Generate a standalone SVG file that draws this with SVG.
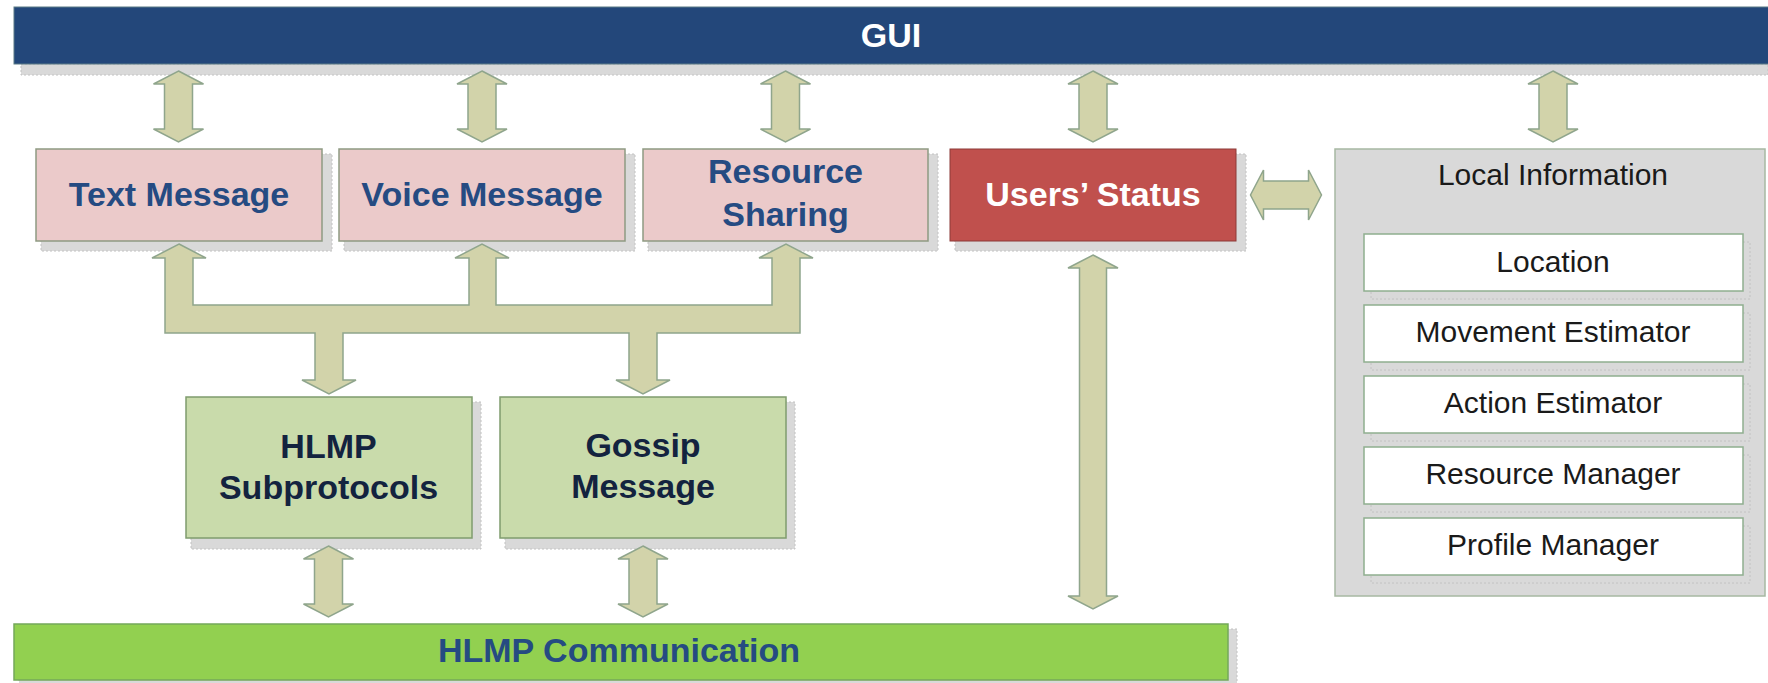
<svg xmlns="http://www.w3.org/2000/svg" xmlns:xlink="http://www.w3.org/1999/xlink" width="1768" height="683" viewBox="0 0 1768 683">
<style>
.shadow{fill:#d9d9d9;stroke:#c2c2c2;stroke-width:1;stroke-dasharray:2 2}
.pink{fill:#ebcaca;stroke:#8e9a82;stroke-width:1.5}
.green{fill:#c9dbab;stroke:#7f9c6e;stroke-width:1.5}
.arrow{fill:#d2d3aa;stroke:#8fa58c;stroke-width:1.5;stroke-linejoin:miter}
.t-blue{font-family:"Liberation Sans",Arial,sans-serif;font-weight:bold;font-size:34px;fill:#254b82;text-anchor:middle}
.t-dark{font-family:"Liberation Sans",Arial,sans-serif;font-weight:bold;font-size:34px;fill:#13233f;text-anchor:middle}
.t-white{font-family:"Liberation Sans",Arial,sans-serif;font-weight:bold;font-size:34px;fill:#ffffff;text-anchor:middle}
.t-reg{font-family:"Liberation Sans",Arial,sans-serif;font-size:30px;fill:#1a1a1a;text-anchor:middle}
.inner{fill:#ffffff;stroke:#8fae8f;stroke-width:1.5}
</style>
<defs>
<path id="dbl" d="M0,0 L25,13 L14,13 L14,58 L25,58 L0,71 L-25,58 L-14,58 L-14,13 L-25,13 Z"/>
</defs>

<g id="gui">
<rect class="shadow" x="21" y="64" width="1747" height="11"/>
<rect x="14" y="7" width="1760" height="57" fill="#23477a" stroke="#5b7b86" stroke-width="1"/>
<text class="t-white" x="891" y="47" font-size="31">GUI</text>
</g>

<g id="text-message">
<rect class="shadow" x="41" y="154" width="291" height="97"/>
<rect class="pink" x="36" y="149" width="286" height="92"/>
<text class="t-blue" x="179" y="206">Text Message</text>
</g>

<g id="voice-message">
<rect class="shadow" x="344" y="154" width="291" height="97"/>
<rect class="pink" x="339" y="149" width="286" height="92"/>
<text class="t-blue" x="482" y="206">Voice Message</text>
</g>

<g id="resource-sharing">
<rect class="shadow" x="648" y="154" width="290" height="97"/>
<rect class="pink" x="643" y="149" width="285" height="92"/>
<text class="t-blue" x="785.5" y="183">Resource</text>
<text class="t-blue" x="785.5" y="226">Sharing</text>
</g>

<g id="users-status">
<rect class="shadow" x="955" y="154" width="291" height="97"/>
<rect x="950" y="149" width="286" height="92" fill="#c0504d" stroke="#8c3a38" stroke-width="1"/>
<text class="t-white" x="1093" y="206">Users’ Status</text>
</g>

<g id="local-information">
<rect x="1335" y="149" width="430" height="447" fill="#d9d9d9" stroke="#a7b8a2" stroke-width="1.5"/>
<text class="t-reg" x="1553" y="185">Local Information</text>
<g id="location">
<rect class="shadow" x="1371" y="242" width="379" height="57"/>
<rect class="inner" x="1364" y="234" width="379" height="57"/>
<text class="t-reg" x="1553" y="271.5">Location</text>
</g>
<g id="movement-estimator">
<rect class="shadow" x="1371" y="313" width="379" height="57"/>
<rect class="inner" x="1364" y="305" width="379" height="57"/>
<text class="t-reg" x="1553" y="342">Movement Estimator</text>
</g>
<g id="action-estimator">
<rect class="shadow" x="1371" y="384" width="379" height="57"/>
<rect class="inner" x="1364" y="376" width="379" height="57"/>
<text class="t-reg" x="1553" y="413">Action Estimator</text>
</g>
<g id="resource-manager">
<rect class="shadow" x="1371" y="455" width="379" height="57"/>
<rect class="inner" x="1364" y="447" width="379" height="57"/>
<text class="t-reg" x="1553" y="484">Resource Manager</text>
</g>
<g id="profile-manager">
<rect class="shadow" x="1371" y="526" width="379" height="57"/>
<rect class="inner" x="1364" y="518" width="379" height="57"/>
<text class="t-reg" x="1553" y="555">Profile Manager</text>
</g>
</g>

<g id="hlmp-subprotocols">
<rect class="shadow" x="191" y="402" width="290" height="147"/>
<rect class="green" x="186" y="397" width="286" height="141"/>
<text class="t-dark" x="328.5" y="457.5">HLMP</text>
<text class="t-dark" x="328.5" y="498.5">Subprotocols</text>
</g>

<g id="gossip-message">
<rect class="shadow" x="505" y="402" width="290" height="147"/>
<rect class="green" x="500" y="397" width="286" height="141"/>
<text class="t-dark" x="643" y="457">Gossip</text>
<text class="t-dark" x="643" y="498">Message</text>
</g>

<g id="hlmp-communication">
<rect class="shadow" x="19" y="629" width="1218" height="56"/>
<rect x="14" y="624" width="1214" height="56" fill="#92d050" stroke="#74a85a" stroke-width="1.5"/>
<text class="t-blue" x="619" y="662" font-size="34.5">HLMP Communication</text>
</g>

<g id="connectors">
<use xlink:href="#dbl" href="#dbl" class="arrow" transform="translate(178.5,71)"/>
<use xlink:href="#dbl" href="#dbl" class="arrow" transform="translate(482,71)"/>
<use xlink:href="#dbl" href="#dbl" class="arrow" transform="translate(785.5,71)"/>
<use xlink:href="#dbl" href="#dbl" class="arrow" transform="translate(1093,71)"/>
<use xlink:href="#dbl" href="#dbl" class="arrow" transform="translate(1553,71)"/>
<use xlink:href="#dbl" href="#dbl" class="arrow" transform="translate(1321.5,195) rotate(90)"/>
<use xlink:href="#dbl" href="#dbl" class="arrow" transform="translate(328.5,546)"/>
<use xlink:href="#dbl" href="#dbl" class="arrow" transform="translate(643,546)"/>
<path class="arrow" d="M1093,255 L1118,268 L1106.5,268 L1106.5,596 L1118,596 L1093,609 L1068,596 L1079.5,596 L1079.5,268 L1068,268 Z"/>
<path class="arrow" d="M179,244 L206,258 L193,258 L193,305 L469,305 L469,258 L455,258 L482,244 L509,258 L496,258 L496,305 L772,305 L772,258 L759,258 L786,244 L813,258 L800,258 L800,333 L657,333 L657,380 L670,380 L643,394 L616,380 L629,380 L629,333 L343,333 L343,380 L356,380 L329,394 L302,380 L315,380 L315,333 L165,333 L165,258 L152,258 Z"/>
</g>
</svg>
